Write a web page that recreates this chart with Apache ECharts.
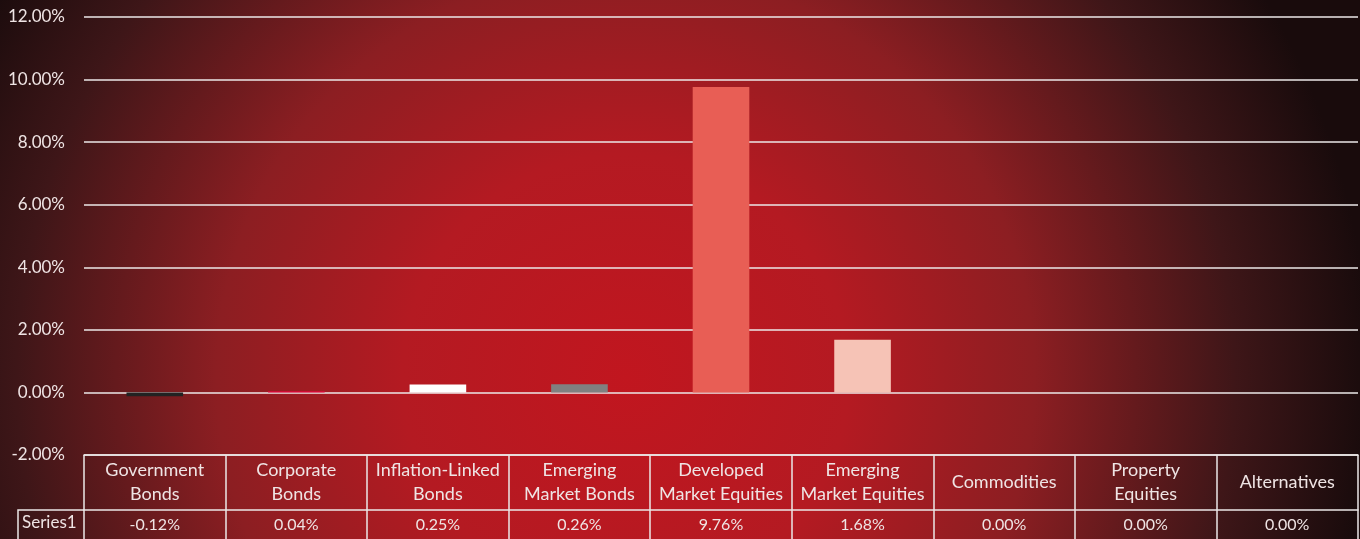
<!DOCTYPE html>
<html>
<head>
<meta charset="utf-8">
<script src="https://cdn.jsdelivr.net/npm/echarts@6/dist/echarts.min.js"></script>
<style>
  html, body { margin: 0; padding: 0; }
  #chart { width: 1360px; height: 539px; }
</style>
</head>
<body>
<div id="chart"></div>
<script>
// chart data
const categories = [
    'Government\nBonds', 'Corporate\nBonds', 'Inflation-Linked\nBonds',
    'Emerging\nMarket Bonds', 'Developed\nMarket Equities', 'Emerging\nMarket Equities',
    'Commodities', 'Property\nEquities', 'Alternatives'
];
const values = [-0.12, 0.04, 0.25, 0.26, 9.76, 1.68, 0.00, 0.00, 0.00];
const barColors = ['#222222', '#e2063a', '#ffffff', '#808080', '#e85e55', '#f6c3b6', '#cccccc', '#cccccc', '#cccccc'];
const seriesName = 'Series1';
const yTicks = { min: -2, max: 12, step: 2 };

const textColor = '#efe4e4';
const lineColor = '#ece8e8';
const font = 'Lato, "Open Sans", sans-serif';

const chart = echarts.init(document.getElementById('chart'));

const option = {
    backgroundColor: {
        type: 'radial', x: 0.46, y: 0.7, r: 1.38,
        colorStops: [
            { offset: 0, color: '#c1161f' },
            { offset: 0.3, color: '#b41a22' },
            { offset: 0.55, color: '#8c1e22' },
            { offset: 0.82, color: '#3e1618' },
            { offset: 1, color: '#190b0c' }
        ]
    },
    textStyle: { fontFamily: font },
    grid: { left: 84, right: 2, top: 17, bottom: 84 },
    xAxis: [
        {
            type: 'category',
            data: categories,
            position: 'bottom',
            axisLine: { show: true, onZero: false, lineStyle: { color: lineColor, width: 1.5 } },
            axisTick: { show: true, inside: false, length: 84, lineStyle: { color: lineColor, width: 1.5 } },
            axisLabel: {
                interval: 0, color: textColor, fontSize: 18, lineHeight: 24,
                verticalAlign: 'middle', margin: 27
            }
        },
        {
            type: 'category',
            data: values.map(v => v.toFixed(2) + '%'),
            position: 'bottom',
            offset: 55,
            axisLine: { show: true, onZero: false, lineStyle: { color: lineColor, width: 1.5 } },
            axisTick: { show: false },
            axisLabel: {
                interval: 0, color: textColor, fontSize: 16,
                verticalAlign: 'middle', margin: 15
            }
        }
    ],
    yAxis: {
        type: 'value',
        min: yTicks.min, max: yTicks.max, interval: yTicks.step,
        axisLine: { show: false },
        axisTick: { show: false },
        axisLabel: {
            color: textColor, fontSize: 17, margin: 19,
            formatter: v => v.toFixed(2) + '%'
        },
        splitLine: { lineStyle: { color: lineColor, width: 1.5 } }
    },
    graphic: [
        {
            type: 'polyline',
            shape: { points: [[18, 539], [18, 510], [84, 510]] },
            style: { stroke: lineColor, lineWidth: 1.5, fill: null }
        },
        {
            type: 'text', left: 22, top: 514,
            style: { text: seriesName, fill: textColor, fontSize: 17, fontFamily: font }
        }
    ],
    series: [
        {
            name: seriesName,
            type: 'bar',
            barWidth: '40%',
            data: values.map((v, i) => ({ value: v, itemStyle: { color: barColors[i] } }))
        }
    ]
};

chart.setOption(option);
window.addEventListener('resize', () => chart.resize());
</script>
</body>
</html>
